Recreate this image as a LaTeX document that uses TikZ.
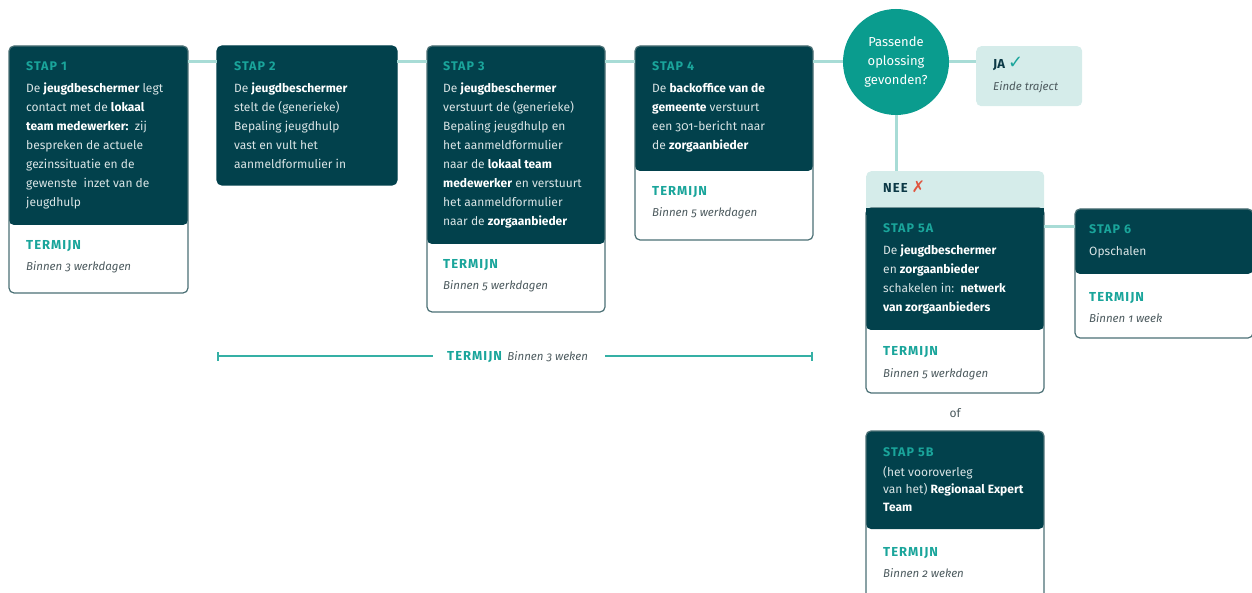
\documentclass[tikz,border=0pt]{standalone}
\usepackage{fontspec}
\setmainfont{Fira Sans}[Numbers=OldStyle]
\newfontfamily\lblfont{Fira Sans}[LetterSpace=8,Numbers=Lining]
\newfontfamily\symfont{DejaVu Sans}
\usetikzlibrary{calc,arrows.meta}
\definecolor{dk}{HTML}{02414C}
\definecolor{bord}{HTML}{4B7075}
\definecolor{tl}{HTML}{1AA59B}
\definecolor{circ}{HTML}{0A9C8E}
\definecolor{ln}{HTML}{A8DCD6}
\definecolor{lightbox}{HTML}{D5ECEA}
\definecolor{bodytxt}{HTML}{D9E4E5}
\definecolor{greytxt}{HTML}{4D5B5F}
\definecolor{neetxt}{HTML}{0C3946}
\definecolor{redx}{HTML}{E0553F}
\definecolor{barc}{HTML}{35B0A5}
\newcommand{\fs}[2]{\fontsize{#1}{#2}\selectfont}
\newcommand{\B}[1]{{\bfseries\color{white}#1}}
\newcommand{\firstline}{\rule{0pt}{14pt}}
\begin{document}
\begin{tikzpicture}[x=1pt,y=-1pt,
  card/.style n args={3}{draw=bord, line width=1.2pt, fill=white, rounded corners=5pt,
    anchor=north west, inner sep=0pt, outer sep=0pt, minimum width=#1, minimum height=#2,
    path picture={\fill[dk] (path picture bounding box.north west) rectangle ([yshift=-#3]path picture bounding box.north east);}},
  darkcard/.style n args={2}{draw=dk, line width=1.2pt, fill=dk, rounded corners=5pt,
    anchor=north west, inner sep=0pt, outer sep=0pt, minimum width=#1, minimum height=#2},
  lbl/.style={anchor=base west, inner sep=0pt, text=tl, font=\lblfont\bfseries\fs{12.5}{14}},
  bodytext/.style={anchor=north west, inner sep=0pt, align=left, text=bodytxt, font=\fs{12}{19}},
  termlbl/.style={anchor=base west, inner sep=0pt, text=tl, font=\lblfont\bfseries\fs{13}{14}},
  termval/.style={anchor=base west, inner sep=0pt, text=greytxt, font=\itshape\fs{11.5}{13}},
  link/.style={draw=ln, line width=3pt},
  bar/.style={draw=barc, line width=2pt}
]
\useasboundingbox (0,0) rectangle (1252,593);

% ---- boxes ----
\node[card={179pt}{247pt}{179pt}] (s1) at (9,46) {};
\node[darkcard={180pt}{139pt}] (s2) at (217,46) {};
\node[card={178pt}{266pt}{198pt}] (s3) at (427,46) {};
\node[card={178pt}{194pt}{125pt}] (s4) at (635,46) {};

\node[circle, fill=circ, minimum size=106pt, inner sep=0pt, align=center,
  text=white, font=\fs{13}{19}] (q) at (896,62) {Passende\\oplossing\\gevonden?};

\node[rectangle, rounded corners=5pt, fill=lightbox, minimum width=106pt, minimum height=60pt,
  anchor=north west, inner sep=0pt] (ja) at (976,46) {};

\node[rectangle, rounded corners=5pt, fill=lightbox, minimum width=178pt, minimum height=45pt,
  anchor=north west, inner sep=0pt] (nee) at (866,171) {};
\node[card={178pt}{185pt}{122pt}] (s5a) at (866,208) {};
\fill[dk] (s5a.north west) rectangle ([yshift=-7pt]s5a.north east);

\node[card={178pt}{129pt}{65pt}] (s6) at (1075,209) {};
\node[card={178pt}{200pt}{98pt}] (s5b) at (866,431) {};

% ---- connectors ----
\coordinate (l56) at (1060,227);
\draw[link] (s1.east |- q) -- (s2.west |- q);
\draw[link] (s2.east |- q) -- (s3.west |- q);
\draw[link] (s3.east |- q) -- (s4.west |- q);
\draw[link] (s4.east |- q) -- (q.west);
\draw[link] (q.east) -- (ja.west |- q);
\draw[link] (q.south) -- (q.south |- nee.north);
\draw[link] (s5a.east |- l56) -- (s6.west |- l56);

% ---- box 1 ----
\node[lbl] (s1l) at (26,70.5) {STAP 1};
\node[bodytext] (s1b) at (26,78) {\firstline De \B{jeugdbeschermer} legt\\
contact met de \B{lokaal}\\
\B{team medewerker:}\ \ zij\\
bespreken de actuele\\
gezinssituatie en de\\
gewenste\ \ inzet van de\\
jeugdhulp};
\node[termlbl] (s1t) at (26,249.5) {TERMIJN};
\node[termval] (s1v) at (26,270.5) {Binnen 3 werkdagen};

% ---- box 2 ----
\node[lbl] (s2l) at (234,70.5) {STAP 2};
\node[bodytext] (s2b) at (234,78) {\firstline De \B{jeugdbeschermer}\\
stelt de (generieke)\\
Bepaling jeugdhulp\\
vast en vult het\\
aanmeldformulier in};

% ---- box 3 ----
\node[lbl] (s3l) at (443,70.5) {STAP 3};
\node[bodytext] (s3b) at (443,78) {\firstline De \B{jeugdbeschermer}\\
verstuurt de (generieke)\\
Bepaling jeugdhulp en\\
het aanmeldformulier\\
naar de \B{lokaal team}\\
\B{medewerker} en verstuurt\\
het aanmeldformulier\\
naar de \B{zorgaanbieder}};
\node[termlbl] (s3t) at (443,268.5) {TERMIJN};
\node[termval] (s3v) at (443,289.5) {Binnen 5 werkdagen};

% ---- box 4 ----
\node[lbl] (s4l) at (652,70.5) {STAP 4};
\node[bodytext] (s4b) at (652,78) {\firstline De \B{backoffice van de}\\
\B{gemeente} verstuurt\\
een 301-bericht naar\\
de \B{zorgaanbieder}};
\node[termlbl] (s4t) at (652,195.5) {TERMIJN};
\node[termval] (s4v) at (652,216.5) {Binnen 5 werkdagen};

% ---- JA ----
\node[anchor=base west, inner sep=0pt, text=neetxt, font=\bfseries\fs{13}{14}] (jat) at (993,69)
  {JA {\symfont\color{tl}\fs{18}{18}✓}};
\node[termval] (jav) at (993,90.5) {Einde traject};

% ---- NEE / 5A ----
\node[anchor=base west, inner sep=0pt, text=neetxt, font=\lblfont\bfseries\fs{13}{14}] (neet) at (883,193)
  {NEE {\symfont\color{redx}\fs{16}{16}✗}};
\node[lbl] (s5al) at (883,232.5) {STAP 5A};
\node[bodytext] (s5ab) at (883,240) {\firstline De \B{jeugdbeschermer}\\
en \B{zorgaanbieder}\\
schakelen in:\ \ \B{netwerk}\\
\B{van zorgaanbieders}};
\node[termlbl] (s5at) at (883,355.5) {TERMIJN};
\node[termval] (s5av) at (883,377) {Binnen 5 werkdagen};

% ---- 6 ----
\node[lbl] (s6l) at (1089,233.5) {STAP 6};
\node[bodytext] (s6b) at (1089,241) {\firstline Opschalen};
\node[termlbl] (s6t) at (1089,301.5) {TERMIJN};
\node[termval] (s6v) at (1089,322.5) {Binnen 1 week};

% ---- of ----
\node[anchor=base, inner sep=0pt, text=greytxt, font=\fs{12}{13}] (of) at (955,417) {of};

% ---- 5B ----
\node[lbl] (s5bl) at (883,456.5) {STAP 5B};
\node[bodytext, font=\fs{12}{17.5}] (s5bb) at (883,462) {\firstline (het vooroverleg\\
van het) \B{Regionaal Expert}\\
\B{Team}};
\node[termlbl] (s5bt) at (883,556.5) {TERMIJN};
\node[termval] (s5bv) at (883,577.5) {Binnen 2 weken};

% ---- termijn bar ----
\coordinate (ta) at (217,356);
\coordinate (tb) at (813,356);
\node[inner sep=0pt, minimum width=172pt, minimum height=14pt] (tt) at (519,356) {};
\node[termlbl] (ttl) at (447,360.5) {TERMIJN};
\node[termval] (ttv) at (ttl.base east) [xshift=5pt] {Binnen 3 weken};
\draw[bar, {Bar[width=9pt]}-] (ta) -- (tt.west);
\draw[bar, -{Bar[width=9pt]}] (tt.east) -- (tb);
\end{tikzpicture}
\end{document}
